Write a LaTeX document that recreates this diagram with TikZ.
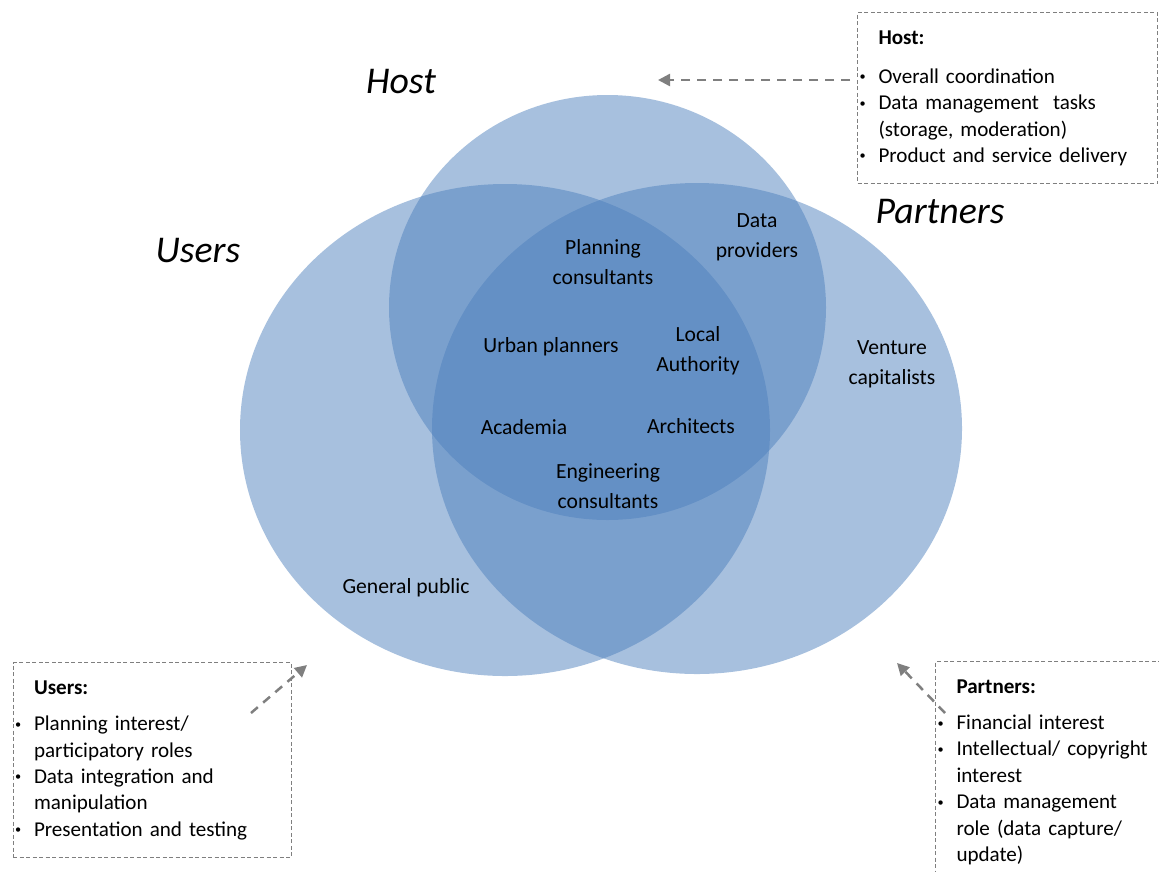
\documentclass[tikz,border=0pt]{standalone}
\usepackage{fontspec}
\setmainfont{Carlito}
\usepackage{array}
\usetikzlibrary{arrows.meta, positioning}
\definecolor{venn}{HTML}{4F81BD}
\definecolor{notegray}{HTML}{7F7F7F}
\newcommand{\bodyfont}{\fontsize{12pt}{15pt}\selectfont}
\newcommand{\memberfont}{\fontsize{12.3pt}{17pt}\selectfont}
\newcommand{\settitlefont}{\fontsize{21.5pt}{25pt}\selectfont\itshape}
\newcommand{\bl}{\raisebox{0.25ex}{\fontsize{7pt}{7pt}\selectfont\textbullet}}

\tikzset{
  set/.style={fill=venn, fill opacity=0.5},
  settitle/.style={font=\settitlefont},
  member/.style={font=\memberfont, align=center},
  notebox/.style={draw=notegray, line width=0.2mm, dash pattern=on 0.8mm off 0.5mm,
                  anchor=north west, inner xsep=0.4mm, inner ysep=0pt, align=left, font=\bodyfont},
  notearrow/.style={draw=notegray, line width=0.5mm, dash pattern=on 1.8mm off 1.4mm,
                    -{Triangle[length=2.4mm, width=2.4mm]}}
}

\begin{document}
\begin{tikzpicture}[x=0.2mm, y=-0.2mm]
  \useasboundingbox (0,0) rectangle (1159,871);
  \clip (0,0) rectangle (1159,871);

  % the three sets
  \fill[set] (505,430) ellipse [x radius=53mm, y radius=49.2mm];
  \fill[set] (697,428.5) ellipse [x radius=53mm, y radius=49.1mm];
  \fill[set] (607.5,307.5) ellipse [x radius=43.7mm, y radius=42.5mm];

  \node[settitle] (hosttitle) at (401,82) {Host};
  \node[settitle] (userstitle) at (198,251) {Users};
  \node[settitle] (partnerstitle) at (940,212) {Partners};

  % members
  \node[member] (planning) at (603,262) {Planning\\consultants};
  \node[member] (dataprov) at (757,237) {Data\\providers};
  \node[member] (urban) at (551,347) {Urban planners};
  \node[member] (localauth) at (698,351) {Local\\Authority};
  \node[member] (venture) at (892,364) {Venture\\capitalists};
  \node[member] (academia) at (524,427) {Academia};
  \node[member] (architects) at (691,426) {Architects};
  \node[member] (engineering) at (608,486) {Engineering\\consultants};
  \node[member] (public) at (406,588) {General public};

  % notes
  \node[notebox, minimum width=60mm, minimum height=34.2mm, text width=59.2mm] (hostnote) at (857,12)
    {\begin{tabular}{@{}p{3.8mm}@{}l@{}}
           & \textbf{Host:}\\[2.6mm]
       \bl & Overall coordination\\
       \bl & Data management\ \ tasks\\
           & (storage, moderation)\\
       \bl & Product and service delivery
     \end{tabular}};
  \node[notebox, minimum width=55.6mm, minimum height=39mm, text width=54.8mm] (usersnote) at (12.5,662)
    {\begin{tabular}{@{}p{3.8mm}@{}l@{}}
           & \textbf{Users:}\\[2mm]
       \bl & Planning interest/\\
           & participatory roles\\
       \bl & Data integration and\\
           & manipulation\\
       \bl & Presentation and testing
     \end{tabular}};
  \node[notebox, minimum width=48mm, minimum height=44.2mm, text width=47.2mm] (partnersnote) at (935,661)
    {\begin{tabular}{@{}p{3.8mm}@{}l@{}}
           & \textbf{Partners:}\\[2mm]
       \bl & Financial interest\\
       \bl & Intellectual/ copyright\\
           & interest\\
       \bl & Data management\\
           & role (data capture/\\
           & update)
     \end{tabular}};

  % pointers
  \coordinate (hostfrom) at (850,80);
  \coordinate (hostto) at (658,80);
  \coordinate (usersfrom) at (251,713);
  \coordinate (usersto) at (307,665);
  \coordinate (partnersfrom) at (945,713);
  \coordinate (partnersto) at (897,663);
  \draw[notearrow] (hostfrom) -- (hostto);
  \draw[notearrow] (usersfrom) -- (usersto);
  \draw[notearrow] (partnersfrom) -- (partnersto);
\end{tikzpicture}
\end{document}
